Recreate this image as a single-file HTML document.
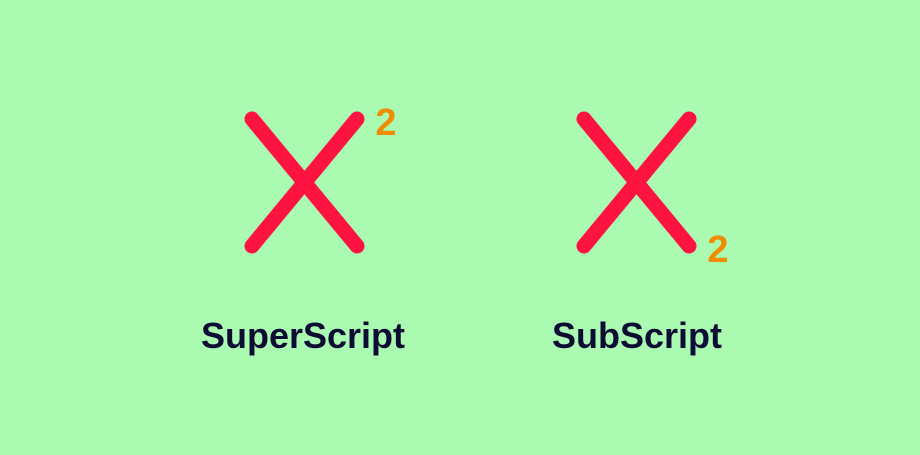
<!DOCTYPE html>
<html><head><meta charset="utf-8"><style>
html,body{margin:0;padding:0;}
body{width:920px;height:450px;background:#aafab2;overflow:hidden;}
</style></head><body>
<svg width="920" height="450" xmlns="http://www.w3.org/2000/svg">
<rect width="920" height="450" fill="#aafab2"/>
<g stroke="#ff1441" stroke-width="15" stroke-linecap="round">
<line x1="252" y1="119" x2="357" y2="246"/>
<line x1="357" y1="119" x2="252" y2="246"/>
<line x1="584" y1="119" x2="689" y2="246"/>
<line x1="689" y1="119" x2="584" y2="246"/>
</g>
<g font-family="Liberation Sans, sans-serif" font-weight="bold" fill="#f08c00" font-size="38">
<text x="386" y="135" text-anchor="middle">2</text>
<text x="718" y="262" text-anchor="middle">2</text>
</g>
<g font-family="Liberation Sans, DejaVu Sans, sans-serif" font-weight="bold" fill="#0d0d33" font-size="36">
<text x="303" y="348" text-anchor="middle">SuperScript</text>
<text x="637" y="348" text-anchor="middle">SubScript</text>
</g>
</svg>
</body></html>
